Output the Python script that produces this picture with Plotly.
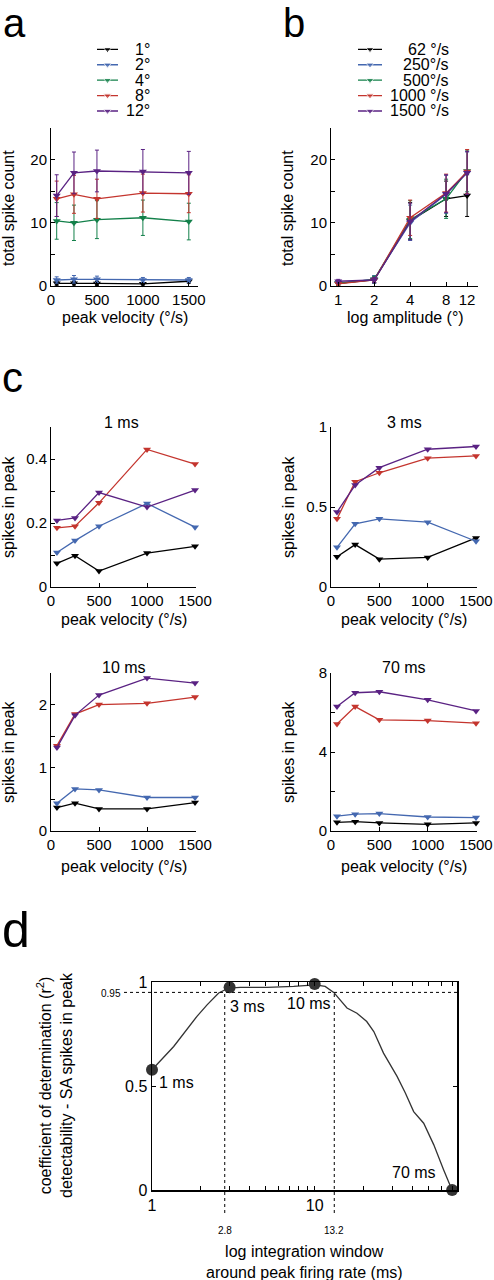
import math
import plotly.graph_objects as go

W, H = 494, 1280
FONT = "Liberation Sans, Arial, sans-serif"

# ---------------- data ----------------
velocities = [62, 250, 500, 1000, 1500]
amplitudes = [1, 2, 4, 8, 12]
amp_labels = ["1°", "2°", "4°", "8°", "12°"]
vel_labels = ["62 °/s", "250°/s", "500°/s", "1000 °/s", "1500 °/s"]
colors = ["#000000", "#4468b0", "#13804a", "#c4352e", "#5a2283"]

# total spike count, one list per amplitude, across velocities
count_1deg = [0.42, 0.45, 0.40, 0.35, 0.75]
count_2deg = [0.95, 1.06, 1.06, 0.95, 0.95]
count_4deg = [10.3, 10.0, 10.5, 10.8, 10.2]
count_8deg = [13.8, 14.5, 13.8, 14.7, 14.6]
count_12deg = [14.3, 17.9, 18.2, 18.1, 17.9]
err_1deg = [0.3, 0.3, 0.3, 0.2, 0.3]
err_2deg = [0.5, 0.6, 0.5, 0.4, 0.4]
err_4deg = [2.9, 2.8, 3.0, 2.8, 2.9]
err_8deg = [2.8, 3.0, 3.1, 3.0, 3.0]
err_12deg = [3.3, 3.3, 3.3, 3.5, 3.4]

# spikes in peak (1°, 2°, 8°, 12°) for each integration window
peak1_1deg = [0.074, 0.098, 0.050, 0.106, 0.127]
peak1_2deg = [0.108, 0.145, 0.190, 0.261, 0.187]
peak1_8deg = [0.185, 0.190, 0.263, 0.430, 0.384]
peak1_12deg = [0.208, 0.216, 0.295, 0.250, 0.303]

peak3_1deg = [0.189, 0.265, 0.174, 0.185, 0.307]
peak3_2deg = [0.248, 0.395, 0.426, 0.405, 0.286]
peak3_8deg = [0.426, 0.658, 0.714, 0.805, 0.819]
peak3_12deg = [0.468, 0.637, 0.746, 0.861, 0.878]

peak10_1deg = [0.37, 0.44, 0.35, 0.35, 0.45]
peak10_2deg = [0.44, 0.665, 0.65, 0.53, 0.53]
peak10_8deg = [1.35, 1.85, 2.00, 2.02, 2.12]
peak10_12deg = [1.32, 1.83, 2.15, 2.42, 2.34]

peak70_1deg = [0.44, 0.47, 0.41, 0.34, 0.41]
peak70_2deg = [0.75, 0.85, 0.88, 0.71, 0.68]
peak70_8deg = [5.42, 6.30, 5.63, 5.59, 5.46]
peak70_12deg = [6.30, 7.00, 7.05, 6.64, 6.08]

# panel d: r^2 vs integration window
window_ms = [1.0, 1.36, 1.89, 2.18, 2.57, 2.96, 3.49, 5.09, 7.43, 10.1, 11.6, 13.1,
             15.8, 18.2, 20.9, 23.1, 26.5, 32.1, 36.1, 40.6, 46.8, 54.0, 62.1, 69.9]
r2_values = [0.578, 0.69, 0.835, 0.89, 0.947, 0.971, 0.974, 0.974, 0.979, 0.986, 0.979, 0.95,
             0.875, 0.85, 0.81, 0.762, 0.658, 0.546, 0.466, 0.377, 0.321, 0.217, 0.096, 0.0]
key_windows = [1, 3, 10, 70]
key_r2 = [0.578, 0.975, 0.99, 0.0]
key_labels = ["1 ms", "3 ms", "10 ms", "70 ms"]
threshold_r2 = 0.95
threshold_windows = [2.8, 13.2]

counts = [count_1deg, count_2deg, count_4deg, count_8deg, count_12deg]
errs = [err_1deg, err_2deg, err_4deg, err_8deg, err_12deg]
peaks = {
    "1 ms": [peak1_1deg, peak1_2deg, peak1_8deg, peak1_12deg],
    "3 ms": [peak3_1deg, peak3_2deg, peak3_8deg, peak3_12deg],
    "10 ms": [peak10_1deg, peak10_2deg, peak10_8deg, peak10_12deg],
    "70 ms": [peak70_1deg, peak70_2deg, peak70_8deg, peak70_12deg],
}
peak_series_idx = [0, 1, 3, 4]


# ---------------- helpers ----------------
def dx(a, b):
    return [a / W, b / W]


def dy(top, bottom):
    return [1 - bottom / H, 1 - top / H]


def px(x):
    return x / W


def py(y):
    return 1 - y / H


def axis(**kw):
    base = dict(showline=True, linecolor="black", linewidth=1, ticks="inside", ticklen=4,
                tickwidth=1, tickcolor="black", showgrid=False, zeroline=False,
                automargin=False,
                tickfont=dict(family=FONT, size=15, color="black"), fixedrange=True)
    base.update(kw)
    return base


def ann(text, x, y, size=16, xanchor="center", yanchor="middle", angle=0, color="black"):
    return dict(text=text, x=px(x), y=py(y), xref="paper", yref="paper", showarrow=False,
                font=dict(family=FONT, size=size, color=color), xanchor=xanchor,
                yanchor=yanchor, textangle=angle)


fig = go.Figure()

# panel a
for i in range(5):
    fig.add_trace(go.Scatter(
        x=velocities, y=counts[i], mode="lines+markers", xaxis="x", yaxis="y",
        line=dict(color=colors[i], width=1.3),
        marker=dict(symbol="triangle-down", size=7, color=colors[i]),
        error_y=dict(type="data", array=errs[i], color=colors[i], thickness=1, width=2),
        cliponaxis=False, showlegend=False))

# panel b (same data, transposed)
for j in range(5):
    fig.add_trace(go.Scatter(
        x=amplitudes, y=[counts[i][j] for i in range(5)], mode="lines+markers",
        xaxis="x2", yaxis="y2",
        line=dict(color=colors[j], width=1.3),
        marker=dict(symbol="triangle-down", size=7, color=colors[j]),
        error_y=dict(type="data", array=[errs[i][j] for i in range(5)], color=colors[j],
                     thickness=1, width=2),
        cliponaxis=False, showlegend=False))

# panel c
for k, (name, series) in enumerate(peaks.items()):
    for s, vals in zip(peak_series_idx, series):
        fig.add_trace(go.Scatter(
            x=velocities, y=vals, mode="lines+markers",
            xaxis="x%d" % (k + 3), yaxis="y%d" % (k + 3),
            line=dict(color=colors[s], width=1.3),
            marker=dict(symbol="triangle-down", size=7, color=colors[s]),
            cliponaxis=False, showlegend=False))

# panel d
fig.add_trace(go.Scatter(x=window_ms, y=r2_values, mode="lines", xaxis="x7", yaxis="y7",
                         line=dict(color="#333333", width=1.3), showlegend=False,
                         cliponaxis=False))
fig.add_trace(go.Scatter(x=key_windows, y=key_r2, mode="markers", xaxis="x7", yaxis="y7",
                         marker=dict(color="#333333", size=12), showlegend=False,
                         cliponaxis=False))

# legends (overlay axes)
for li, (xa, ya) in enumerate([("x8", "y8"), ("x9", "y9")]):
    for i in range(5):
        fig.add_trace(go.Scatter(
            x=[0, 0.5, 1], y=[-i, -i, -i], mode="lines+markers", xaxis=xa, yaxis=ya,
            line=dict(color=colors[i], width=1.3),
            marker=dict(symbol="triangle-down", size=[0, 7, 0], color=colors[i]),
            cliponaxis=False, showlegend=False, hoverinfo="skip"))

vel_ticks = dict(tickmode="array", tickvals=[0, 500, 1000, 1500])
layout = dict(
    width=W, height=H, margin=dict(l=0, r=0, t=0, b=0, pad=0, autoexpand=False),
    paper_bgcolor="white", plot_bgcolor="white", showlegend=False,
    xaxis=axis(domain=dx(51, 198), range=[0, 1600], anchor="y", **vel_ticks),
    yaxis=axis(domain=dy(128, 286), range=[0, 25], anchor="x", tickmode="array",
               tickvals=[0, 10, 20],
               minor=dict(tickmode="array", tickvals=[5, 15, 25], ticks="inside", ticklen=4,
                          tickcolor="black")),
    xaxis2=axis(domain=dx(331, 478), type="log",
                range=[math.log10(0.87), math.log10(14.8)], anchor="y2",
                tickmode="array", tickvals=amplitudes, ticktext=[str(a) for a in amplitudes]),
    yaxis2=axis(domain=dy(128, 286), range=[0, 25], anchor="x2", tickmode="array",
                tickvals=[0, 10, 20],
                minor=dict(tickmode="array", tickvals=[5, 15, 25], ticks="inside", ticklen=4,
                           tickcolor="black")),
    xaxis3=axis(domain=dx(51, 196), range=[0, 1510], anchor="y3", **vel_ticks),
    yaxis3=axis(domain=dy(427, 587), range=[0, 0.5], anchor="x3", tickmode="array",
                tickvals=[0, 0.2, 0.4],
                minor=dict(tickmode="array", tickvals=[0.1, 0.3, 0.5], ticks="inside",
                           ticklen=4, tickcolor="black")),
    xaxis4=axis(domain=dx(331, 477), range=[0, 1510], anchor="y4", **vel_ticks),
    yaxis4=axis(domain=dy(427, 587), range=[0, 1], anchor="x4", tickmode="array",
                tickvals=[0, 0.5, 1]),
    xaxis5=axis(domain=dx(51, 196), range=[0, 1510], anchor="y5", **vel_ticks),
    yaxis5=axis(domain=dy(673, 831), range=[0, 2.5], anchor="x5", tickmode="array",
                tickvals=[0, 1, 2],
                minor=dict(tickmode="array", tickvals=[0.5, 1.5, 2.5], ticks="inside",
                           ticklen=4, tickcolor="black")),
    xaxis6=axis(domain=dx(331, 477), range=[0, 1510], anchor="y6", **vel_ticks),
    yaxis6=axis(domain=dy(673, 831), range=[0, 8], anchor="x6", tickmode="array",
                tickvals=[0, 4, 8],
                minor=dict(tickmode="array", tickvals=[2, 6], ticks="inside", ticklen=4,
                           tickcolor="black")),
    xaxis7=axis(domain=dx(152, 457), type="log", range=[0, 1.875], anchor="y7",
                mirror="ticks", linewidth=1.5, tickmode="array", tickvals=[1, 10],
                tickfont=dict(family=FONT, size=16, color="black"),
                minor=dict(tickmode="array",
                           tickvals=[2, 3, 4, 5, 6, 7, 8, 9, 20, 30, 40, 50, 60, 70],
                           ticks="inside", ticklen=4, tickcolor="black")),
    yaxis7=axis(domain=dy(982, 1190), range=[0, 1], anchor="x7", mirror="ticks",
                linewidth=1.5, tickmode="array", tickvals=[0, 0.5, 1],
                tickfont=dict(family=FONT, size=16, color="black")),
    xaxis8=dict(domain=dx(97, 118), range=[0, 1], visible=False, anchor="y8", fixedrange=True),
    yaxis8=dict(domain=dy(41.6, 118.7), range=[-4.5, 0.5], visible=False, anchor="x8",
                fixedrange=True),
    xaxis9=dict(domain=dx(358, 382), range=[0, 1], visible=False, anchor="y9", fixedrange=True),
    yaxis9=dict(domain=dy(41.6, 118.7), range=[-4.5, 0.5], visible=False, anchor="x9",
                fixedrange=True),
)

annotations = []
# panel letters
annotations.append(ann("a", 1, 23, size=40, xanchor="left"))
annotations.append(ann("b", 281, 23, size=40, xanchor="left"))
annotations.append(ann("c", 0, 377, size=42, xanchor="left"))
annotations.append(ann("d", 0, 930, size=50, xanchor="left"))

# legend texts
for i in range(5):
    annotations.append(dict(text=amp_labels[i], x=px(152), y=-i, xref="paper", yref="y8",
                            showarrow=False, xanchor="right", yanchor="middle",
                            font=dict(family=FONT, size=16, color="black")))
    annotations.append(dict(text=vel_labels[i], x=px(451), y=-i, xref="paper", yref="y9",
                            showarrow=False, xanchor="right", yanchor="middle",
                            font=dict(family=FONT, size=16, color="black")))

# axis titles a/b
annotations.append(ann("peak velocity (°/s)", 124.5, 317))
annotations.append(ann("log amplitude (°)", 405, 317))
annotations.append(ann("total spike count", 9, 208, angle=-90))
annotations.append(ann("total spike count", 288, 208, angle=-90))

# panel c titles
annotations.append(ann("1 ms", 121, 422))
annotations.append(ann("3 ms", 404, 422))
annotations.append(ann("10 ms", 123.5, 667))
annotations.append(ann("70 ms", 404, 667))
annotations.append(ann("peak velocity (°/s)", 123.5, 619))
annotations.append(ann("peak velocity (°/s)", 404, 619))
annotations.append(ann("peak velocity (°/s)", 123.5, 866))
annotations.append(ann("peak velocity (°/s)", 404, 866))
for cx in (8, 288):
    annotations.append(ann("spikes in peak", cx, 507, angle=-90))
    annotations.append(ann("spikes in peak", cx, 752, angle=-90))

# panel d texts
annotations.append(ann("coefficient of determination (r<sup>2</sup>)<br>"
                       "detectability - SA spikes in peak", 54, 1085, angle=-90))
annotations.append(ann("log integration window<br>around peak firing rate (ms)", 304, 1262))
annotations.append(ann("0.95", 111, 993, size=10))
for tw in threshold_windows:
    annotations.append(dict(text=str(tw), x=math.log10(tw), y=py(1230), xref="x7",
                            yref="paper", showarrow=False, xanchor="center",
                            yanchor="middle", font=dict(family=FONT, size=10, color="black")))
label_offsets = [(157, 1082, "left"), (228, 1006, "left"), (285, 1003, "left"),
                 (390, 1172, "left")]
for lbl, (lx, ly, anc) in zip(key_labels, label_offsets):
    annotations.append(ann(lbl, lx, ly, xanchor=anc))

layout["annotations"] = annotations

# dotted reference lines (panel d)
x7_span = 1.875
shapes = [
    dict(type="line", xref="paper", yref="y7", x0=px(124), x1=px(457), y0=threshold_r2,
         y1=threshold_r2, line=dict(color="black", width=1, dash="dot")),
]
for tw in threshold_windows:
    fx = math.log10(tw) / x7_span
    shapes.append(dict(type="line", xref="x7 domain", yref="paper", x0=fx, x1=fx,
                       y0=py(1213), y1=py(1190 - threshold_r2 * 208),
                       line=dict(color="black", width=1, dash="dot")))
layout["shapes"] = shapes

fig.update_layout(**layout)
fig.write_html("out.html",
               config={"displayModeBar": False, "staticPlot": True},
               post_script="document.body.style.margin='0';"
                           "document.body.style.padding='0';"
                           "document.documentElement.style.overflow='hidden';")
